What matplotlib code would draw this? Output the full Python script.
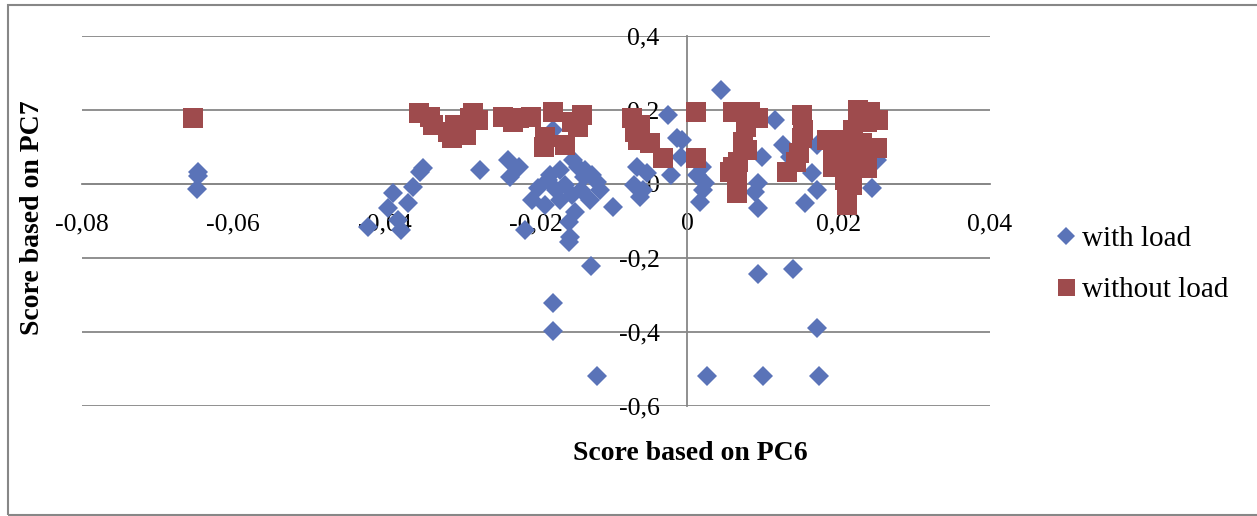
import matplotlib
matplotlib.use("Agg")
import matplotlib.pyplot as plt
from matplotlib.ticker import FuncFormatter
from matplotlib.patches import Rectangle

# scores (PC6, PC7)
with_load_pc6 = [
    -0.0646, -0.0646, -0.0648,
    -0.0349, -0.0362, -0.0389, -0.0369, -0.0395, -0.0422, -0.0379, -0.0353, -0.0382,
    -0.0274, -0.0237, -0.0223, -0.0234, -0.0178, -0.0168, -0.0184, -0.0197, -0.0205,
    -0.0214, -0.0155, -0.0145, -0.0137, -0.0119, -0.0098, -0.0066, -0.0062, -0.0053,
    -0.0022, -0.0013, -0.0009, -0.0025,
    -0.0161, -0.0152, -0.0141, -0.0128, -0.0135, -0.0168, -0.0188, -0.0148, -0.0157,
    -0.0174, -0.0126, -0.0115, -0.0151, -0.0071, -0.0058, -0.0181,
    0.0044, 0.0116, -0.0007, 0.0126, 0.0136, 0.0172, 0.0165, 0.0172, 0.0156, 0.0099,
    0.0093, 0.0090, 0.0093, 0.0020, 0.0024, 0.0021, 0.0017, 0.0244, 0.0251, 0.0013,
    0.0094, 0.0140, 0.0172, 0.0026, 0.0100, 0.0174, -0.0120, -0.0127, -0.0177, -0.0177,
    -0.0157,
]
with_load_pc7 = [
    0.032, 0.022, -0.014,
    0.043, -0.008, -0.024, -0.051, -0.065, -0.116, -0.124, 0.032, -0.097,
    0.038, 0.065, 0.046, 0.019, 0.146, 0.038, 0.011, -0.011, -0.043,
    -0.124, -0.143, 0.046, 0.019, 0.005, -0.062, 0.046, -0.035, 0.030,
    0.024, 0.124, 0.073, 0.186,
    -0.003, -0.030, -0.016, -0.043, 0.038, -0.043, -0.057, -0.076, -0.103,
    -0.016, 0.024, -0.016, 0.065, -0.003, -0.016, 0.024,
    0.254, 0.173, 0.119, 0.105, 0.073, 0.105, 0.030, -0.016, -0.051, 0.073,
    0.003, -0.022, -0.065, 0.046, 0.003, -0.016, -0.049, -0.011, 0.065, 0.024,
    -0.243, -0.230, -0.389, -0.519, -0.519, -0.519, -0.519, -0.222, -0.322, -0.397,
    -0.157,
]

without_load_pc6 = [
    -0.0653,
    -0.0355, -0.0340, -0.0316, -0.0336, -0.0307, -0.0300, -0.0293, -0.0287, -0.0283,
    -0.0276, -0.0311,
    -0.0243, -0.0230, -0.0223, -0.0207,
    -0.0177, -0.0188, -0.0190, -0.0161, -0.0145, -0.0139, -0.0152,
    -0.0073, -0.0069, -0.0065, -0.0049, -0.0032, -0.0062,
    0.0011, 0.0011,
    0.0061, 0.0083, 0.0093, 0.0077, 0.0074, 0.0079, 0.0067, 0.0061, 0.0057, 0.0066, 0.0066,
    0.0152, 0.0153, 0.0152, 0.0147, 0.0143, 0.0132,
    0.0185, 0.0193, 0.0193, 0.0211, 0.0215, 0.0213, 0.0211, 0.0211, 0.0211,
    0.0231, 0.0238, 0.0231, 0.0235, 0.0238, 0.0238, 0.0219, 0.0225, 0.0242, 0.0246,
    0.0252, 0.0209, 0.0218, 0.0200, 0.0250,
]
without_load_pc7 = [
    0.178,
    0.192, 0.181, 0.141, 0.159, 0.159, 0.154, 0.132, 0.178, 0.192,
    0.173, 0.124,
    0.181, 0.168, 0.178, 0.181,
    0.195, 0.127, 0.100, 0.105, 0.154, 0.186, 0.168,
    0.178, 0.141, 0.119, 0.111, 0.070, 0.159,
    0.195, 0.070,
    0.195, 0.195, 0.178, 0.154, 0.114, 0.092, 0.059, 0.046, 0.032, 0.011, -0.024,
    0.186, 0.146, 0.124, 0.084, 0.059, 0.032,
    0.119, 0.073, 0.046, 0.119, 0.073, 0.032, -0.008, -0.043, -0.057,
    0.192, 0.168, 0.111, 0.086, 0.065, 0.043, 0.146, 0.200, 0.195, 0.173,
    0.173, 0.011, -0.003, 0.092, 0.097,
]

x_ticks = [-0.08, -0.06, -0.04, -0.02, 0, 0.02, 0.04]
y_ticks = [-0.6, -0.4, -0.2, 0, 0.2, 0.4]

blue = '#5A73B8'
red = '#9E4B4D'
grey = '#878787'

plt.rcParams['font.family'] = ['Liberation Serif', 'DejaVu Serif']

fig = plt.figure(figsize=(12.57, 5.16), dpi=100)
ax = fig.add_axes([0.0652, 0.2132, 0.7224, 0.7171])

for yt in y_ticks:
    ax.axhline(yt, color=grey, lw=1.3, zorder=1)

ax.plot(with_load_pc6, with_load_pc7, linestyle='none', marker='D', ms=10.2,
        color=blue, mec=blue, mew=0, label='with load', zorder=3)
ax.plot(without_load_pc6, without_load_pc7, linestyle='none', marker='s', ms=14.4,
        color=red, mec=red, mew=0, label='without load', zorder=4)

ax.set_xlim(-0.08, 0.04)
ax.set_ylim(-0.6, 0.4)
ax.set_xticks(x_ticks)
ax.set_yticks(y_ticks)


def comma_fmt(v, pos):
    s = f"{round(v, 4):g}".replace('.', ',')
    return '0' if s == '-0' else s


ax.xaxis.set_major_formatter(FuncFormatter(comma_fmt))
ax.yaxis.set_major_formatter(FuncFormatter(comma_fmt))

for side in ['top', 'right']:
    ax.spines[side].set_visible(False)
ax.spines['left'].set_position(('data', 0))
ax.spines['bottom'].set_position(('data', 0))
ax.spines['left'].set_color(grey)
ax.spines['bottom'].set_color(grey)
ax.spines['left'].set_linewidth(1.3)
ax.spines['bottom'].set_linewidth(1.3)
ax.spines['left'].set_zorder(2)
ax.spines['bottom'].set_zorder(2)

ax.tick_params(axis='both', length=0, labelsize=18.5, labelcolor='black')
ax.tick_params(axis='y', pad=20)
ax.tick_params(axis='x', pad=21)
for lbl in ax.get_xticklabels() + ax.get_yticklabels():
    lbl.set_zorder(10)

fig.text(690 / 1257, 1 - 453 / 516, 'Score based on PC6', ha='center', va='center',
         fontsize=20, fontweight='bold')
fig.text(33 / 1257, 1 - 218 / 516, 'Score based on PC7', ha='center', va='center',
         rotation=90, fontsize=20, fontweight='bold')

fig.legend(loc='upper left', bbox_to_anchor=(1040 / 1257, 1 - 211 / 516), frameon=False,
           fontsize=21, markerscale=0.85, handlelength=0.8, handletextpad=0.15,
           labelspacing=0.85, borderpad=0)

fig.patches.append(Rectangle((8 / 1257, 1 / 516), 1.2, 1 - 6 / 516, transform=fig.transFigure,
                             fill=False, edgecolor=grey, lw=1.5))

fig.savefig('out.png', dpi=100)
